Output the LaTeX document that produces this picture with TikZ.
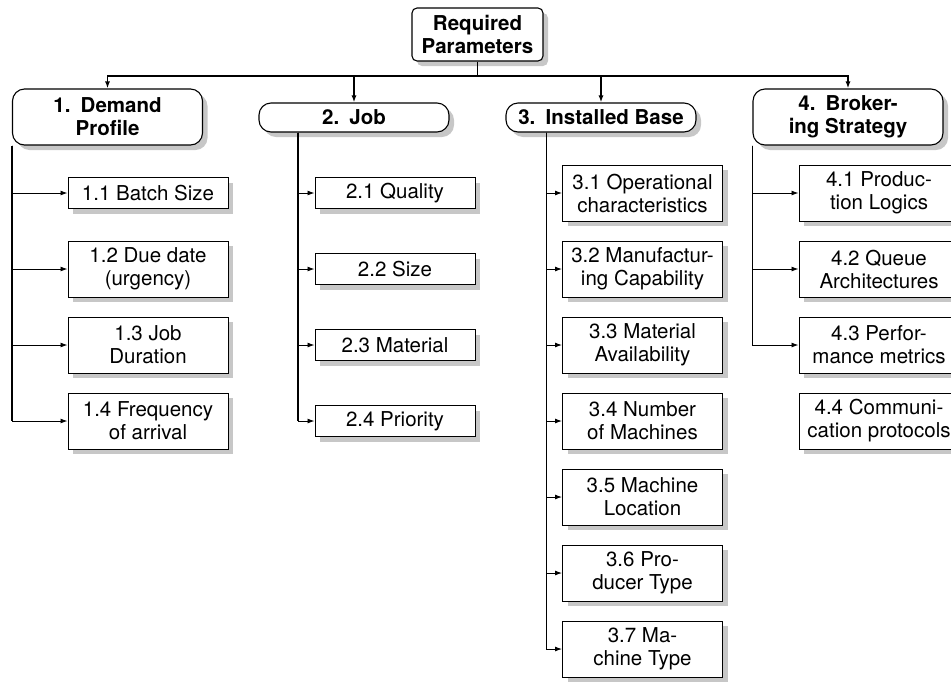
\documentclass[tikz,border=0pt]{standalone}
\usepackage{fontspec}
\setmainfont{TeX Gyre Heros}
\usetikzlibrary{arrows.meta,shadows,positioning}

\tikzset{
	boxshadow/.style={drop shadow={shadow xshift=5pt, shadow yshift=-5pt, fill=black!22, opacity=1}},
	rootbox/.style={draw, fill=white, rounded corners=5pt, line width=1.1pt, align=center, inner sep=0pt,
		font=\fontsize{20.5}{23}\selectfont\bfseries, minimum width=131, minimum height=53, boxshadow},
	catbox/.style={draw, fill=white, rounded corners=12pt, line width=1.1pt, align=center, inner sep=0pt,
		font=\fontsize{20.5}{23}\selectfont\bfseries, minimum width=190, boxshadow},
	itembox/.style={draw, fill=white, line width=1pt, align=center, inner sep=0pt,
		font=\fontsize{20.5}{23}\selectfont, minimum width=160, boxshadow},
	onebox/.style={itembox, minimum height=31},
	twobox/.style={itembox, minimum height=56},
	bus/.style={line width=1.5pt},
	trunk/.style={line width=1.4pt},
	branch/.style={line width=0.9pt}
}

\begin{document}
\begin{tikzpicture}[x=1pt, y=-1pt, >={Latex[length=7pt,width=5pt]}]

	\useasboundingbox (0,0) rectangle (951,681);
	\clip (0,0) rectangle (951,681);

	%root and categories
	\node[rootbox] (root) at (477.5,34.5) {Required\\Parameters};
	\node[catbox, minimum height=56] (demand) at (107.5,117) {1.\enspace Demand\\Profile};
	\node[catbox, minimum height=29] (job) at (354,117.5) {2.\enspace Job};
	\node[catbox, minimum height=29] (inst) at (601,117.5) {3.\enspace Installed Base};
	\node[catbox, minimum height=56] (broker) at (848,117) {4.\enspace Broker-\\ing Strategy};

	%1. demand profile
	\node[onebox] (batch) at (148,193) {1.1 Batch Size};
	\node[twobox] (due) at (148,269) {1.2 Due date\\(urgency)};
	\node[twobox] (duration) at (148,345) {1.3 Job\\Duration};
	\node[twobox] (arrival) at (148,421) {1.4 Frequency\\of arrival};

	%2. job
	\node[onebox] (quality) at (395,193) {2.1 Quality};
	\node[onebox] (size) at (395,269) {2.2 Size};
	\node[onebox] (material) at (395,345) {2.3 Material};
	\node[onebox] (priority) at (395,421) {2.4 Priority};

	%3. installed base
	\node[twobox] (oper) at (642.5,193) {3.1 Operational\\characteristics};
	\node[twobox] (manuf) at (642.5,269) {3.2 Manufactur-\\ing Capability};
	\node[twobox] (avail) at (642.5,345) {3.3 Material\\Availability};
	\node[twobox] (number) at (642.5,421) {3.4 Number\\of Machines};
	\node[twobox] (location) at (642.5,497) {3.5 Machine\\Location};
	\node[twobox] (producer) at (642.5,573) {3.6 Pro-\\ducer Type};
	\node[twobox] (machine) at (642.5,649) {3.7 Ma-\\chine Type};

	%4. brokering strategy
	\node[twobox] (logics) at (879,193) {4.1 Produc-\\tion Logics};
	\node[twobox] (queue) at (879,269) {4.2 Queue\\Architectures};
	\node[twobox] (metrics) at (879,345) {4.3 Perfor-\\mance metrics};
	\node[twobox] (protocols) at (879,421) {4.4 Communi-\\cation protocols};

	%bus from the root
	\coordinate (bus) at (477.5,76);
	\draw[bus] (root.south) -- (bus);
	\draw[bus, ->] (bus) -| (demand.north);
	\draw[bus, ->] (bus) -| (job.north);
	\draw[bus, ->] (bus) -| (inst.north);
	\draw[bus, ->] (bus) -| (broker.north);

	%trunks
	\coordinate (demandtrunk) at (demand.south west);
	\coordinate (jobtrunk) at ([xshift=39.5pt]job.south west);
	\coordinate (insttrunk) at ([xshift=41pt]inst.south west);
	\coordinate (brokertrunk) at (broker.south west);
	\draw[trunk] (demandtrunk) -- (demandtrunk |- arrival.west);
	\draw[trunk] (jobtrunk) -- (jobtrunk |- priority.west);
	\draw[trunk] (insttrunk) -- (insttrunk |- machine.west);
	\draw[trunk] (brokertrunk) -- (brokertrunk |- metrics.west);

	%branches
	\draw[branch, ->] (demandtrunk) |- (batch.west);
	\draw[branch, ->] (demandtrunk) |- (due.west);
	\draw[branch, ->] (demandtrunk) |- (duration.west);
	\draw[branch, ->] (demandtrunk) |- (arrival.west);

	\draw[branch, ->] (jobtrunk) |- (quality.west);
	\draw[branch, ->] (jobtrunk) |- (size.west);
	\draw[branch, ->] (jobtrunk) |- (material.west);
	\draw[branch, ->] (jobtrunk) |- (priority.west);

	\draw[branch, ->] (insttrunk) |- (oper.west);
	\draw[branch, ->] (insttrunk) |- (manuf.west);
	\draw[branch, ->] (insttrunk) |- (avail.west);
	\draw[branch, ->] (insttrunk) |- (number.west);
	\draw[branch, ->] (insttrunk) |- (location.west);
	\draw[branch, ->] (insttrunk) |- (producer.west);
	\draw[branch, ->] (insttrunk) |- (machine.west);

	\draw[branch, ->] (brokertrunk) |- (logics.west);
	\draw[branch, ->] (brokertrunk) |- (queue.west);
	\draw[branch, ->] (brokertrunk) |- (metrics.west);

\end{tikzpicture}
\end{document}
